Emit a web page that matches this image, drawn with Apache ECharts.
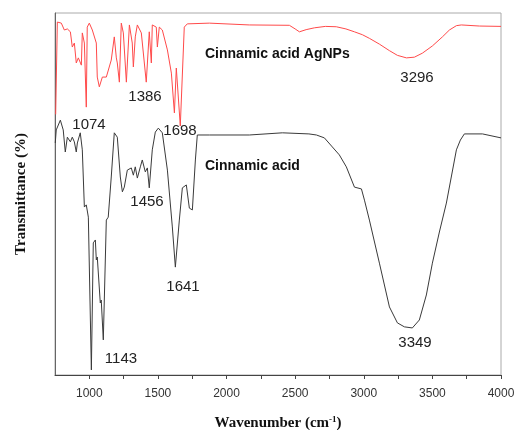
<!DOCTYPE html>
<html>
<head>
<meta charset="utf-8">
<script src="https://cdn.jsdelivr.net/npm/echarts@6/dist/echarts.min.js"></script>
<style>
html, body { margin: 0; padding: 0; background: #fff; }
#chart { width: 516px; height: 430px; }
</style>
</head>
<body>
<div id="chart"></div>
<script>
// Cinnamic acid AgNPs (red, upper trace)
let agnpsWave = [755, 767, 796, 818, 840, 862, 876, 891, 905, 920, 942, 949, 964, 978, 985, 1000, 1022, 1051, 1058, 1073,
    1095, 1124, 1160, 1182, 1197, 1204, 1219, 1233, 1248, 1270, 1292, 1313, 1321, 1335, 1350, 1379, 1415, 1437, 1452, 1459,
    1488, 1496, 1510, 1532, 1569, 1598, 1620, 1634, 1663, 1692, 1714, 1875, 2166, 2458, 2500, 2531, 2580, 2640, 2720, 2800,
    2870, 2932, 2990, 3041, 3114, 3187, 3245, 3311, 3369, 3427, 3500, 3573, 3624, 3675, 3711, 3843, 4000];
let agnpsT = [72, 97.5, 97.2, 95.3, 95.6, 94.8, 90.6, 91.7, 86.2, 87.6, 85.6, 94.5, 91.7, 74.0, 96.1, 97.2, 95.3, 91.7, 82.3, 79.6,
    82.3, 82.3, 87.0, 93.4, 87.6, 86.2, 80.9, 97.2, 94.5, 80.9, 96.7, 91.7, 85.1, 93.4, 96.7, 94.5, 80.9, 94.8, 86.2, 96.7,
    96.1, 90.6, 96.1, 95.3, 89.8, 83.4, 72.4, 84.8, 68.8, 96.1, 97.0, 97.2, 96.7, 96.6, 95.6, 94.8, 95.4, 95.9, 96.3, 96.2,
    95.6, 94.8, 94.0, 93.0, 91.4, 89.6, 88.3, 87.6, 87.8, 88.9, 90.9, 93.4, 95.3, 96.5, 96.7, 96.4, 96.3];

// Cinnamic acid (black, lower trace)
let acidWave = [752, 759, 789, 810, 825, 840, 862, 876, 891, 905, 913, 934, 949, 964, 978, 993, 1015, 1029, 1044, 1051,
    1058, 1080, 1087, 1102, 1124, 1138, 1160, 1182, 1204, 1226, 1241, 1255, 1277, 1306, 1321, 1335, 1350, 1372, 1386, 1408,
    1423, 1437, 1459, 1481, 1503, 1532, 1569, 1605, 1627, 1656, 1678, 1707, 1729, 1751, 1773, 1787, 1875, 2166, 2407, 2600,
    2655, 2713, 2771, 2822, 2873, 2932, 2983, 3005, 3041, 3114, 3187, 3245, 3296, 3354, 3405, 3456, 3500, 3551, 3602, 3675,
    3704, 3733, 3865, 4000];
let acidT = [64.1, 67.7, 70.4, 67.7, 61.6, 65.7, 64.4, 65.7, 64.4, 61.6, 64.1, 66.9, 62.2, 46.4, 47.0, 43.6, 1.4, 36.5, 37.3, 31.8,
    32.6, 19.9, 20.7, 9.7, 42.8, 43.6, 54.7, 66.9, 65.7, 54.7, 50.6, 51.9, 56.6, 57.2, 55.2, 57.5, 54.4, 57.5, 59.4, 56.1,
    57.2, 51.7, 62.2, 67.1, 68.2, 66.9, 56.6, 40.9, 29.8, 42.8, 51.7, 52.5, 46.1, 45.6, 59.4, 66.3, 66.3, 66.3, 66.9, 66.6,
    66.3, 65.5, 63.0, 60.8, 57.5, 51.9, 51.4, 48.3, 42.8, 30.9, 18.8, 14.4, 13.3, 13.0, 15.2, 22.1, 30.9, 39.5, 47.5, 62.2,
    64.9, 66.6, 66.6, 65.5];

let xMin = 750;
let xMax = 4000;
let tickStep = 250;

// annotations: [text, x px, y px]
let peakLabels = [
    ['1074', 89, 125],
    ['1386', 145, 97],
    ['1698', 180, 131],
    ['3296', 417, 78],
    ['1456', 147, 202],
    ['1641', 183, 287],
    ['1143', 121, 359],
    ['3349', 415, 343]
];
let seriesLabels = [
    ['Cinnamic acid AgNPs', 205, 54],
    ['Cinnamic acid', 205, 166]
];

function zip(xs, ys) {
    return xs.map(function (x, i) {
        return [x, ys[i]];
    });
}

let chart = echarts.init(document.getElementById('chart'));
let graphics = [];
for (let item of peakLabels) {
    graphics.push({
        type: 'text',
        x: item[1],
        y: item[2],
        style: {
            text: item[0],
            fill: '#222',
            font: '15px "Liberation Sans", Arial, sans-serif',
            align: 'center',
            verticalAlign: 'middle'
        }
    });
}
for (let item of seriesLabels) {
    graphics.push({
        type: 'text',
        x: item[1],
        y: item[2],
        style: {
            text: item[0],
            fill: '#111',
            font: 'bold 14px "Liberation Sans", Arial, sans-serif',
            align: 'left',
            verticalAlign: 'middle'
        }
    });
}

let option = {
    animation: false,
    backgroundColor: '#fff',
    textStyle: {
        fontFamily: '"Liberation Sans", Arial, sans-serif'
    },
    grid: {
        left: 55,
        right: 15,
        top: 13,
        bottom: 55,
        outerBoundsMode: 'none',
        show: true,
        borderColor: '#aaa',
        borderWidth: 1
    },
    xAxis: {
        type: 'value',
        min: xMin,
        max: xMax,
        interval: tickStep,
        name: '{a|Wavenumber (cm}{s|-1}{a|)}',
        nameLocation: 'middle',
        nameGap: 40,
        nameTextStyle: {
            rich: {
                a: {
                    fontFamily: '"Liberation Serif", "Times New Roman", serif',
                    fontWeight: 'bold',
                    fontSize: 15,
                    color: '#111'
                },
                s: {
                    fontFamily: '"Liberation Serif", "Times New Roman", serif',
                    fontWeight: 'bold',
                    fontSize: 9,
                    color: '#111',
                    verticalAlign: 'top',
                    padding: [0, 0, 8, 0]
                }
            }
        },
        axisLine: {
            onZero: false,
            lineStyle: {
                color: '#444',
                width: 1
            }
        },
        axisTick: {
            inside: false,
            length: 4,
            lineStyle: {
                color: '#444'
            }
        },
        axisLabel: {
            fontSize: 12,
            color: '#333',
            margin: 13,
            showMinLabel: false,
            formatter: function (value) {
                return value % 500 === 0 ? String(value) : '';
            }
        },
        splitLine: {
            show: false
        }
    },
    yAxis: {
        type: 'value',
        min: 0,
        max: 100,
        name: 'Transmittance (%)',
        nameLocation: 'middle',
        nameGap: 26,
        nameTextStyle: {
            fontFamily: '"Liberation Serif", "Times New Roman", serif',
            fontWeight: 'bold',
            fontSize: 15,
            color: '#111'
        },
        axisLine: {
            show: true,
            lineStyle: {
                color: '#666'
            }
        },
        axisTick: {
            show: false
        },
        axisLabel: {
            show: false
        },
        splitLine: {
            show: false
        }
    },
    series: [{
        name: 'Cinnamic acid AgNPs',
        type: 'line',
        data: zip(agnpsWave, agnpsT),
        showSymbol: false,
        lineStyle: {
            color: '#ff4a4a',
            width: 1
        }
    }, {
        name: 'Cinnamic acid',
        type: 'line',
        data: zip(acidWave, acidT),
        showSymbol: false,
        lineStyle: {
            color: '#3a3a3a',
            width: 1
        }
    }],
    graphic: graphics
};
chart.setOption(option);
</script>
</body>
</html>
